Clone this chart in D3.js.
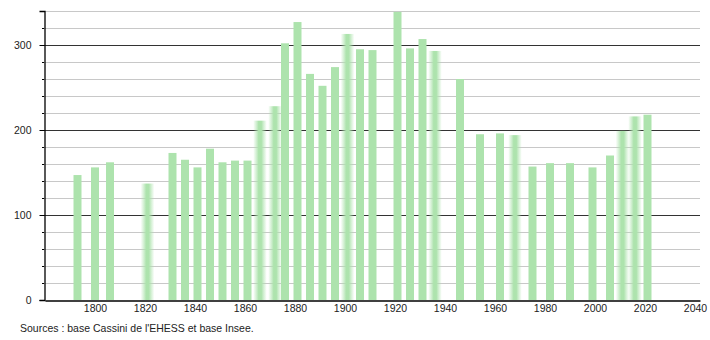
<!DOCTYPE html>
<html>
<head>
<meta charset="utf-8">
<script src="https://cdn.jsdelivr.net/npm/d3@7"></script>
<style>
  body { margin: 0; background: #fff; }
  text { font-family: "Liberation Sans", Arial, sans-serif; fill: #222; }
</style>
</head>
<body>
<div id="chart"></div>
<script>
// census years and population
var years = [1793, 1800, 1806, 1821, 1831, 1836, 1841, 1846, 1851, 1856, 1861, 1866,
  1872, 1876, 1881, 1886, 1891, 1896, 1901, 1906, 1911, 1921, 1926, 1931, 1936,
  1946, 1954, 1962, 1968, 1975, 1982, 1990, 1999, 2006, 2011, 2016, 2021];
var population = [147, 156, 162, 137, 173, 165, 156, 178, 162, 164, 164, 211,
  228, 302, 327, 266, 252, 274, 313, 295, 294, 339, 296, 307, 293,
  260, 195, 196, 194, 157, 161, 161, 156, 170, 199, 216, 218];
// bars that look blurred in the original
var softYears = [1821, 1866, 1872, 1901, 1936, 1968, 2011, 2016];
var xTicks = [1800, 1820, 1840, 1860, 1880, 1900, 1920, 1940, 1960, 1980, 2000, 2020, 2040];
var yTicks = [0, 100, 200, 300];
var source = "Sources : base Cassini de l'EHESS et base Insee.";

var width = 710;
var height = 340;

var svg = d3.select('#chart')
  .append('svg')
  .attr('width', width)
  .attr('height', height);

var x = d3.scaleLinear()
  .domain([1780, 2042])
  .range([45, 700]);

var y = d3.scaleLinear()
  .domain([0, 340])
  .range([300, 11]);

var data = years.map(function(d, i) {
  return { year: d, value: population[i], soft: softYears.indexOf(d) >= 0 };
});

// soft gradient for the blurred bars
var grad = svg.append('defs').append('linearGradient')
  .attr('id', 'soft')
  .attr('x1', '0%').attr('x2', '100%')
  .attr('y1', '0%').attr('y2', '0%');
grad.selectAll('stop')
  .data([
    { offset: '0%', color: '#ade3ad', op: 0 },
    { offset: '25%', color: '#ade3ad', op: 0.6 },
    { offset: '40%', color: '#ade3ad', op: 1 },
    { offset: '60%', color: '#ade3ad', op: 1 },
    { offset: '75%', color: '#ade3ad', op: 0.6 },
    { offset: '100%', color: '#ade3ad', op: 0 }
  ])
  .enter().append('stop')
  .attr('offset', function(d) { return d.offset; })
  .attr('stop-color', function(d) { return d.color; })
  .attr('stop-opacity', function(d) { return d.op; });

// minor gridlines every 20
svg.append('g')
  .attr('class', 'grid')
  .selectAll('line')
  .data(d3.range(20, 341, 20).filter(function(d) { return d % 100 !== 0; }))
  .enter().append('line')
  .attr('x1', 44).attr('x2', 700)
  .attr('y1', function(d) { return Math.round(y(d)) + 0.5; })
  .attr('y2', function(d) { return Math.round(y(d)) + 0.5; })
  .attr('stroke', '#c8c8c8')
  .attr('stroke-width', 1);

// major gridlines
svg.append('g')
  .selectAll('line')
  .data([100, 200, 300])
  .enter().append('line')
  .attr('x1', 44).attr('x2', 700)
  .attr('y1', function(d) { return Math.round(y(d)) + 0.5; })
  .attr('y2', function(d) { return Math.round(y(d)) + 0.5; })
  .attr('stroke', '#333')
  .attr('stroke-width', 1);

// bars
var barW = 8;
svg.append('g')
  .selectAll('rect')
  .data(data)
  .enter().append('rect')
  .attr('x', function(d) { return x(d.year) - (d.soft ? barW * 0.85 : barW / 2); })
  .attr('width', function(d) { return d.soft ? barW * 1.7 : barW; })
  .attr('y', function(d) { return y(d.value); })
  .attr('height', function(d) { return y(0) - y(d.value); })
  .attr('fill', function(d) { return d.soft ? 'url(#soft)' : '#ade3ad'; });

// y axis
var yAxis = svg.append('g')
  .attr('transform', 'translate(44.5,0)')
  .call(d3.axisLeft(y).tickValues(yTicks).tickSize(5).tickPadding(8));
yAxis.select('.domain').attr('stroke', '#000').attr('stroke-width', 1.3);
yAxis.selectAll('.tick line').attr('stroke', '#000');
yAxis.selectAll('text').style('font-size', '10.5px').attr('fill', '#222');

// minor y ticks
svg.append('g')
  .selectAll('line')
  .data(d3.range(20, 341, 20).filter(function(d) { return d % 100 !== 0; }))
  .enter().append('line')
  .attr('x1', 42).attr('x2', 44)
  .attr('y1', function(d) { return Math.round(y(d)) + 0.5; })
  .attr('y2', function(d) { return Math.round(y(d)) + 0.5; })
  .attr('stroke', '#000');

// x axis
var xAxis = svg.append('g')
  .attr('transform', 'translate(0,300.5)')
  .call(d3.axisBottom(x).tickValues(xTicks).tickSize(0).tickPadding(4).tickFormat(d3.format('d')));
xAxis.select('.domain').attr('stroke', '#000').attr('stroke-width', 1.3);
xAxis.selectAll('text').style('font-size', '10.5px').attr('fill', '#222');

// source
svg.append('text')
  .attr('x', 20)
  .attr('y', 332)
  .style('font-size', '10.5px')
  .text(source);
</script>
</body>
</html>
